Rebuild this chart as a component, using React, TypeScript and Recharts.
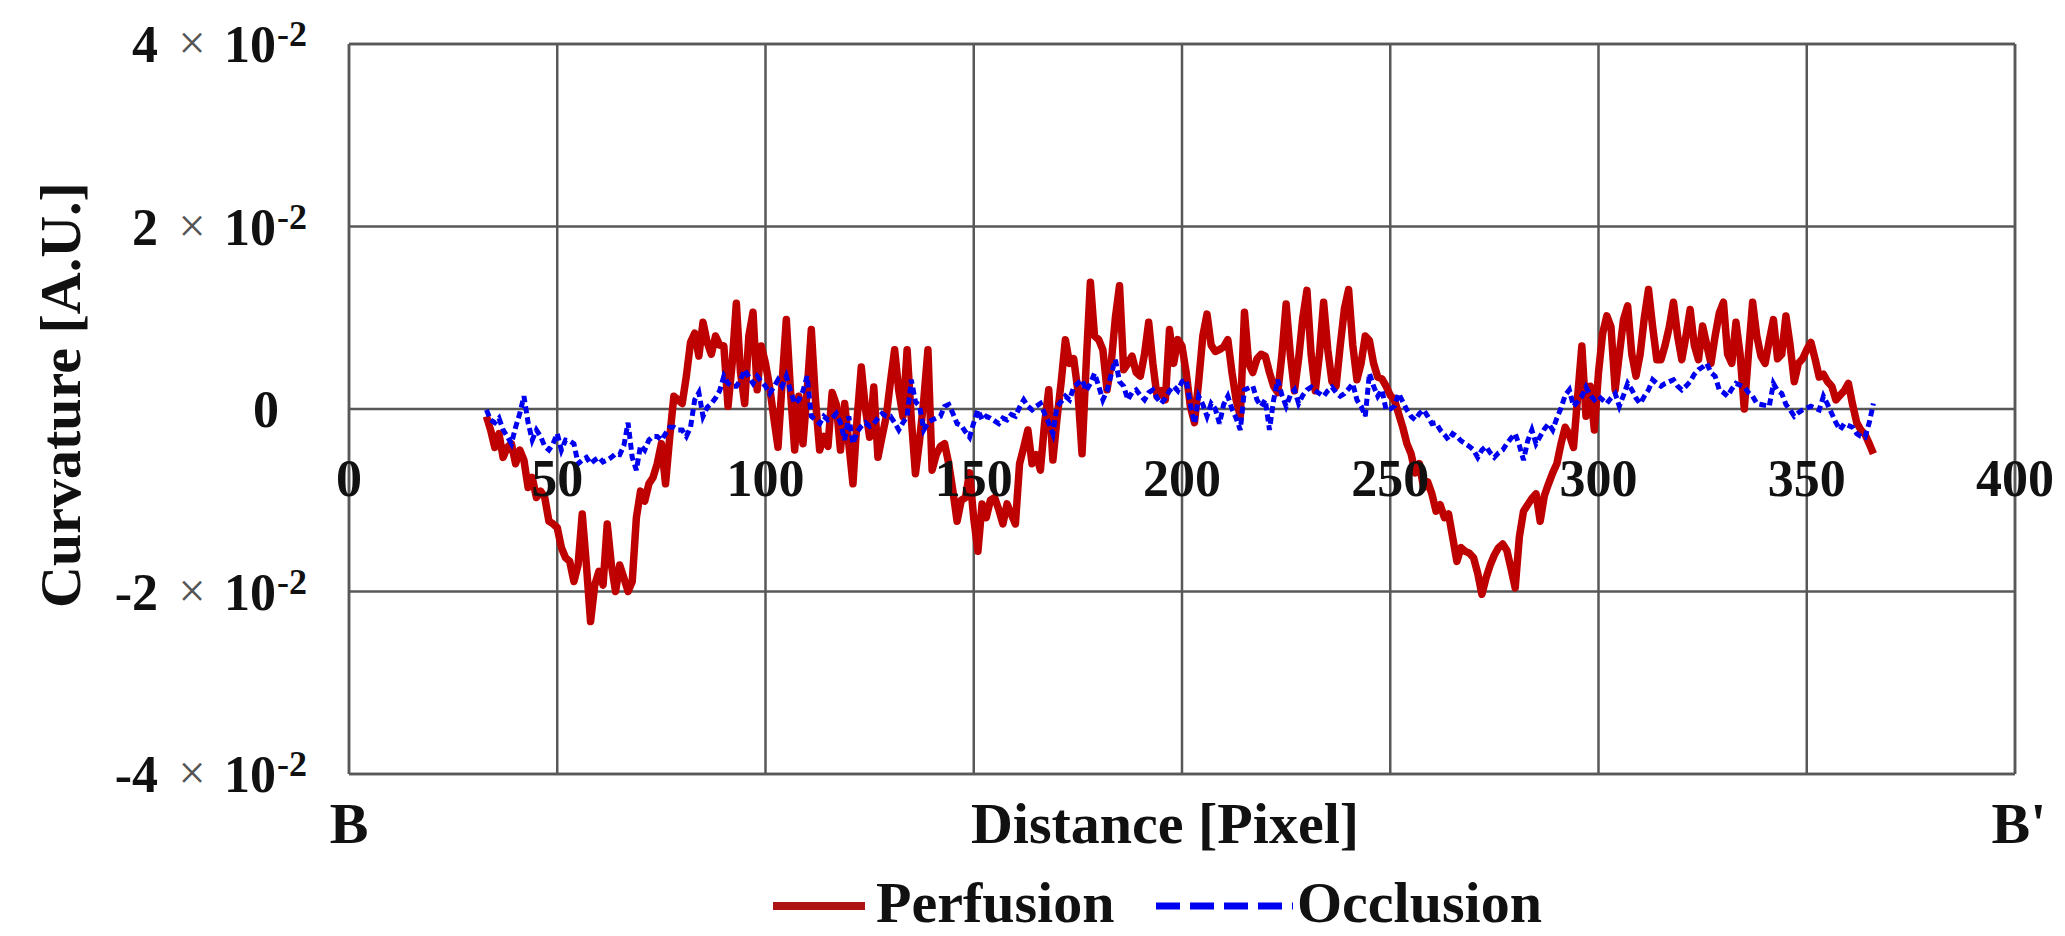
import { LineChart, Line, XAxis, YAxis, CartesianGrid, Legend, ReferenceLine } from 'recharts';

// Canvas + plot box (px)
const W = 2065;
const H = 936;
const PLOT = { left: 349, right: 2015, top: 44, bottom: 774 };
const ZERO_Y = (PLOT.top + PLOT.bottom) / 2;

const SERIF = '"Liberation Serif", "Times New Roman", serif';
const GRID = '#585858';
const RED = '#BE0000';
const BLUE = '#0000F0';

const xTicks = [0, 50, 100, 150, 200, 250, 300, 350, 400];
const yTicks = [-0.04, -0.02, 0, 0.02, 0.04];

// Samples start at pixel 33, one per pixel
const firstDistance = 33;

// curvature values, in units of 10^-3
const perfusion = [
  -0.8, -2.3, -4.2, -2.7, -5.3, -4.2, -3.8, -6.0, -4.5, -5.6,
  -8.6, -7.5, -9.7, -9.0, -9.7, -12.3, -12.6, -13.0, -15.2, -16.3,
  -16.7, -18.9, -17.1, -11.5, -17.1, -23.3, -19.3, -17.8, -19.3, -12.6,
  -17.1, -20.0, -17.1, -18.5, -20.0, -18.9, -11.9, -9.0, -10.1, -8.2,
  -7.5, -6.0, -3.8, -8.2, -3.1, 1.4, 1.0, 0.6, 3.6, 7.3,
  8.3, 5.8, 9.5, 7.3, 6.0, 8.0, 7.0, 6.9, 0.3, 5.0,
  11.6, 4.0, 0.6, 8.0, 10.6, 2.1, 6.9, 5.0, 2.4, -1.0,
  -4.2, 3.0, 9.8, 2.0, -4.5, 1.4, -3.8, 2.0, 8.7, 1.0,
  -4.5, -3.0, -4.1, 1.8, 0.5, -4.5, 0.6, -3.8, -8.2, -1.0,
  4.6, 0.0, -3.1, 2.4, -5.3, -3.0, -0.8, 3.0, 6.5, 2.0,
  -0.8, 6.5, -1.0, -7.1, -3.4, 1.0, 6.5, -6.7, -5.0, -4.1,
  -3.8, -6.0, -9.0, -12.3, -10.0, -9.7, -7.0, -12.0, -15.6, -10.4,
  -11.9, -10.0, -9.7, -11.0, -12.6, -10.4, -11.5, -12.6, -6.0, -4.2,
  -2.3, -6.0, -5.0, -6.7, -1.6, 2.1, -5.6, -1.0, 3.0, 7.6,
  5.0, 5.5, 2.0, -4.9, 5.0, 13.9, 8.0, 7.6, 6.5, 2.1,
  5.0, 10.0, 13.5, 4.3, 5.0, 5.8, 4.0, 3.6, 6.0, 9.5,
  5.0, 1.4, 2.0, 1.0, 8.7, 5.0, 7.6, 6.9, 4.0, 0.3,
  -1.5, 3.0, 8.0, 10.4, 7.0, 6.3, 6.5, 6.8, 7.6, 4.0,
  1.0, -0.8, 10.6, 5.0, 4.0, 5.5, 6.0, 5.8, 4.0, 2.5,
  1.8, 6.0, 11.5, 6.0, 2.0, 5.5, 10.0, 13.0, 6.0, 2.0,
  6.0, 11.7, 6.5, 3.0, 2.5, 7.0, 11.0, 13.1, 7.0, 3.2,
  5.0, 8.0, 7.5, 5.0, 3.5, 3.3, 2.5, 1.5, 1.0, -0.5,
  -2.0, -3.8, -4.9, -7.0, -6.0, -8.6, -8.0, -9.3, -11.2, -10.5,
  -11.9, -11.5, -14.1, -16.7, -15.2, -15.6, -15.8, -16.3, -18.0, -20.3,
  -18.5, -17.1, -16.0, -15.2, -14.8, -15.5, -17.5, -19.6, -14.0, -11.2,
  -10.5, -9.8, -9.3, -12.3, -9.5, -8.2, -7.0, -6.0, -3.8, -2.0,
  -2.8, -4.2, 1.4, 6.9, -0.8, 2.5, -2.3, 4.0, 8.3, 10.2,
  9.0, 2.1, 6.0, 9.8, 11.3, 6.0, 3.6, 6.0, 10.0, 13.1,
  9.0, 5.4, 5.4, 7.0, 9.0, 11.7, 8.0, 5.4, 8.0, 10.9,
  7.0, 5.4, 9.1, 7.0, 5.0, 8.0, 10.5, 11.7, 6.0, 5.0,
  9.5, 6.0, 0.0, 6.0, 11.7, 8.0, 5.8, 5.0, 7.5, 9.8,
  5.5, 6.0, 10.2, 7.0, 3.0, 5.0, 5.5, 6.5, 7.3, 5.5,
  3.5, 3.8, 3.0, 2.5, 1.0, 1.5, 2.0, 2.8, 0.5, -1.5,
  -2.3, -2.8, -3.8, -4.9,
];

const occlusion = [
  -0.1, -1.2, -1.5, -1.0, -2.3, -3.0, -3.8, -2.0, -0.5, 1.4,
  -1.5, -3.4, -2.3, -3.0, -4.1, -4.5, -3.8, -2.7, -4.5, -3.4,
  -3.5, -3.8, -6.0, -5.6, -5.3, -6.0, -5.6, -5.3, -5.8, -5.6,
  -5.3, -4.9, -5.0, -4.0, -1.5, -5.3, -6.7, -4.0, -4.5, -3.4,
  -3.0, -3.0, -3.4, -2.7, -2.0, -2.0, -2.3, -2.3, -3.0, -2.0,
  1.0, 1.8, -0.8, 0.2, 0.6, 1.2, 2.0, 3.6, 2.8, 2.5,
  2.5, 3.2, 4.3, 3.5, 2.8, 3.6, 3.0, 2.5, 1.7, 2.4,
  3.2, 2.5, 3.6, 2.0, 0.6, 1.0, 2.0, 3.6, -0.8, -1.2,
  -1.6, -0.8, -1.2, -1.0, -0.5, -1.5, -3.4, -0.8, -3.8, -2.5,
  -1.9, -1.5, -1.9, -1.6, -1.0, -0.5, -0.8, -0.8, -1.5, -2.3,
  -1.5, -0.8, 3.2, 0.8, 0.3, -2.3, -1.5, -1.2, -1.0, -0.8,
  0.3, 0.5, -0.5, -1.6, -1.8, -2.5, -3.1, -1.5, -0.1, -1.2,
  -0.8, -1.0, -1.3, -1.6, -1.0, -1.2, -0.6, -0.8, 0.2, 1.0,
  0.3, -0.1, 0.3, 0.6, -0.5, -1.5, -2.7, 0.3, 0.8, 1.4,
  1.0, 2.4, 2.8, 3.2, 2.0, 2.8, 3.9, 2.5, 1.0, 2.0,
  3.8, 5.4, 3.0, 2.5, 1.0, 1.8, 2.1, 1.5, 1.0, 1.8,
  2.1, 1.2, 0.6, 1.2, 2.0, 2.5, 2.0, 3.0, 3.2, 0.5,
  -1.6, 1.4, 0.5, -0.8, 0.6, 0.0, -1.6, 0.5, 1.4, 0.0,
  -1.0, -2.3, 2.1, 2.3, 2.5, 1.0, 0.3, 1.0, -2.3, 1.0,
  3.2, 1.5, 0.3, 1.5, 2.1, 0.6, 1.5, 2.1, 2.4, 2.0,
  1.7, 1.4, 2.0, 2.4, 1.8, 1.4, 1.7, 2.2, 2.8, 1.0,
  0.3, -0.8, 3.9, 2.5, 1.4, 2.1, -0.1, 0.0, 0.3, 1.7,
  0.8, -0.1, -0.8, -1.2, -0.5, -0.1, -0.8, -1.6, -1.5, -2.3,
  -2.8, -3.4, -2.7, -3.0, -3.5, -3.8, -4.1, -4.5, -5.3, -4.5,
  -4.1, -4.8, -5.3, -4.8, -4.5, -3.8, -3.2, -2.7, -4.0, -5.6,
  -3.5, -2.3, -3.8, -3.0, -2.2, -1.6, -2.3, -1.0, 0.1, 1.5,
  2.1, 0.3, 0.8, 1.4, 2.4, 1.5, 1.0, 1.4, 1.0, 0.6,
  1.2, 1.7, 0.3, 1.5, 2.8, 2.1, 1.2, 0.6, 1.4, 2.1,
  3.2, 2.8, 2.5, 2.8, 3.0, 3.2, 2.5, 2.1, 2.5, 3.0,
  3.8, 4.3, 4.6, 5.0, 4.0, 3.6, 2.1, 1.8, 1.4, 2.2,
  2.8, 2.6, 2.4, 1.8, 1.4, 0.6, 0.5, 0.4, 0.3, 2.8,
  2.0, 1.7, 0.5, -0.1, -0.8, -0.4, -0.1, 0.1, 0.3, 0.1,
  -0.1, 1.4, 0.5, -0.5, -1.5, -2.3, -1.6, -1.8, -2.0, -2.7,
  -3.0, -3.1, -1.5, 0.6,
];

const rows = perfusion.map((p, i) => ({
  distance: firstDistance + i,
  perfusion: p / 1000,
  occlusion: occlusion[i] / 1000,
}));

const textProps = { fontFamily: SERIF, fill: '#111' };

// "4 × 10^-2" style labels
function YTick({ y, payload }: any) {
  const m = Math.round(payload.value * 100);
  if (m === 0) {
    return (
      <text {...textProps} x={266} y={y + 18} textAnchor="middle" fontWeight="bold" fontSize={52}>0</text>
    );
  }
  return (
    <g>
      <text {...textProps} x={158} y={y + 18} textAnchor="end" fontWeight="bold" fontSize={52}>{String(m)}</text>
      <text {...textProps} x={192} y={y + 15} textAnchor="middle" fontSize={48} fill="#555">×</text>
      <text {...textProps} x={224} y={y + 18} fontWeight="bold" fontSize={52}>10</text>
      <text {...textProps} x={277} y={y + 2} fontWeight="bold" fontSize={36}>-2</text>
    </g>
  );
}

// x labels sit under the zero line, not under the plot
function XTick({ x, payload }: any) {
  return (
    <text {...textProps} x={x} y={ZERO_Y + 87} textAnchor="middle" fontWeight="bold" fontSize={52}>
      {payload.value}
    </text>
  );
}

function XTitle() {
  return (
    <g fontWeight="bold" fontSize={58}>
      <text {...textProps} x={PLOT.left} y={843} textAnchor="middle">B</text>
      <text {...textProps} x={1165} y={843} textAnchor="middle">Distance [Pixel]</text>
      <text {...textProps} x={PLOT.right + 4} y={843} textAnchor="middle">B'</text>
    </g>
  );
}

function YTitle() {
  return (
    <text
      {...textProps}
      x={60}
      y={395}
      transform="rotate(-90, 60, 395)"
      textAnchor="middle"
      dominantBaseline="central"
      fontWeight="bold"
      fontSize={58}
    >
      Curvature [A.U.]
    </text>
  );
}

function LegendContent() {
  return (
    <svg width={W} height={72} style={{ display: 'block', overflow: 'visible' }}>
      <line x1={773} x2={865} y1={42} y2={42} stroke="#AE1414" strokeWidth={8} />
      <text {...textProps} x={876} y={58} fontWeight="bold" fontSize={58}>Perfusion</text>
      <line x1={1156} x2={1293} y1={42} y2={42} stroke={BLUE} strokeWidth={7} strokeDasharray="24 10" />
      <text {...textProps} x={1297} y={58} fontWeight="bold" fontSize={58}>Occlusion</text>
    </svg>
  );
}

export default function App() {
  return (
    <div style={{ position: 'absolute', left: 0, top: 0, width: W, height: H, background: '#fff' }}>
      <LineChart
        width={W}
        height={H}
        data={rows}
        margin={{ top: PLOT.top, right: W - PLOT.right, bottom: 0, left: 0 }}
      >
        <CartesianGrid stroke={GRID} strokeWidth={2.5} />
        <XAxis
          type="number"
          dataKey="distance"
          domain={[0, 400]}
          ticks={xTicks}
          interval={0}
          height={H - PLOT.bottom}
          tick={<XTick />}
          tickLine={false}
          axisLine={{ stroke: GRID, strokeWidth: 2.5 }}
          label={<XTitle />}
        />
        <YAxis
          type="number"
          domain={[-0.04, 0.04]}
          ticks={yTicks}
          interval={0}
          width={PLOT.left}
          tick={<YTick />}
          tickLine={false}
          axisLine={{ stroke: GRID, strokeWidth: 2.5 }}
          label={<YTitle />}
        />
        <ReferenceLine x={400} stroke={GRID} strokeWidth={2.5} />
        <ReferenceLine y={0.04} stroke={GRID} strokeWidth={2.5} />
        <Legend
          layout="horizontal"
          verticalAlign="middle"
          align="center"
          wrapperStyle={{ top: 864, left: 0, width: W }}
          content={<LegendContent />}
        />
        <Line
          type="linear"
          dataKey="perfusion"
          stroke={RED}
          strokeWidth={7.5}
          strokeLinejoin="round"
          dot={false}
          isAnimationActive={false}
        />
        <Line
          type="linear"
          dataKey="occlusion"
          stroke={BLUE}
          strokeWidth={5}
          strokeDasharray="7 4"
          dot={false}
          isAnimationActive={false}
        />
      </LineChart>
    </div>
  );
}
